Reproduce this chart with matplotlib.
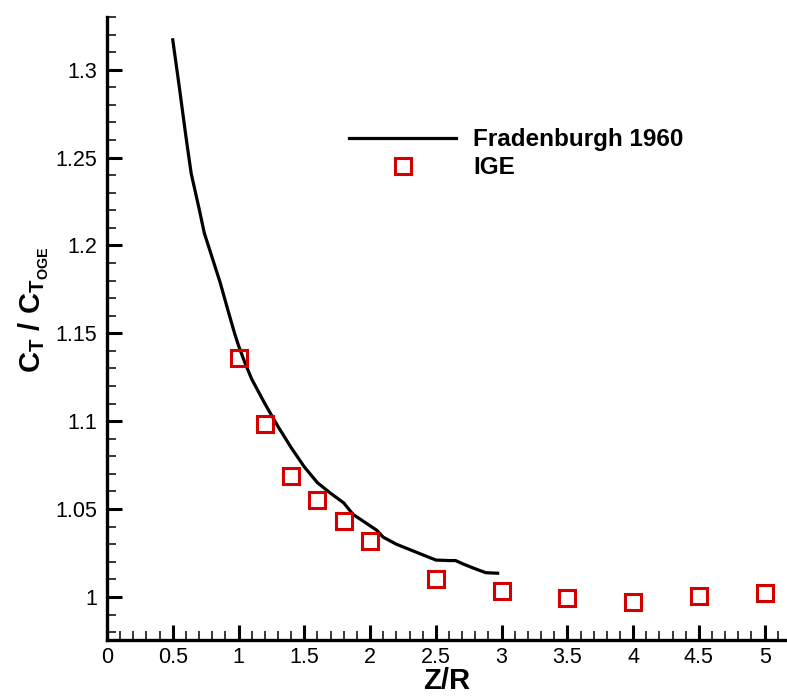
import matplotlib
matplotlib.use("Agg")
import matplotlib.pyplot as plt
from matplotlib.ticker import MultipleLocator, FormatStrFormatter

plt.rcParams['font.family'] = ['Liberation Sans', 'DejaVu Sans']
plt.rcParams['mathtext.fontset'] = 'custom'
plt.rcParams['mathtext.rm'] = 'Liberation Sans:bold'
plt.rcParams['mathtext.it'] = 'Liberation Sans:bold'
plt.rcParams['mathtext.bf'] = 'Liberation Sans:bold'

# Fradenburgh 1960 curve
frad_zr = [0.5, 0.55, 0.6, 0.64, 0.7, 0.74, 0.8, 0.86, 0.92, 0.97, 1.0, 1.05,
           1.1, 1.2, 1.3, 1.4, 1.5, 1.6, 1.7, 1.8, 1.87, 1.95, 2.05, 2.1, 2.2,
           2.3, 2.4, 2.5, 2.6, 2.65, 2.7, 2.8, 2.88, 2.97]
frad_ct = [1.317, 1.29, 1.262, 1.241, 1.221, 1.207, 1.193, 1.179, 1.163, 1.150,
           1.143, 1.133, 1.124, 1.110, 1.097, 1.085, 1.074, 1.065, 1.059, 1.0535,
           1.047, 1.043, 1.038, 1.034, 1.030, 1.027, 1.024, 1.021, 1.0207,
           1.0207, 1.019, 1.016, 1.0138, 1.0135]

# IGE points
ige_zr = [1.0, 1.2, 1.4, 1.6, 1.8, 2.0, 2.5, 3.0, 3.5, 4.0, 4.5, 5.0]
ige_ct = [1.136, 1.0985, 1.069, 1.055, 1.043, 1.032, 1.0102, 1.0034, 0.9996,
          0.9973, 1.0006, 1.002]

fig = plt.figure(figsize=(7.87, 7.0), dpi=100)
ax = fig.add_axes([107 / 787, 60 / 700, 1 - 107 / 787, 623 / 700])

ax.plot(frad_zr, frad_ct, color='black', linewidth=2.3, label='Fradenburgh 1960')
ax.plot(ige_zr, ige_ct, linestyle='none', marker='s', markersize=11,
        markerfacecolor='none', markeredgecolor='#d40000', markeredgewidth=2.2,
        label='IGE')

ax.set_xlim(0, 5.17)
ax.set_ylim(0.9755, 1.330)

ax.xaxis.set_major_locator(MultipleLocator(0.5))
ax.xaxis.set_minor_locator(MultipleLocator(0.1))
ax.yaxis.set_major_locator(MultipleLocator(0.05))
ax.yaxis.set_minor_locator(MultipleLocator(0.01))
ax.xaxis.set_major_formatter(FormatStrFormatter('%g'))
ax.yaxis.set_major_formatter(FormatStrFormatter('%g'))

for side in ['top', 'right']:
    ax.spines[side].set_visible(False)
for side in ['left', 'bottom']:
    ax.spines[side].set_linewidth(2.4)

ax.tick_params(which='major', direction='in', length=11, width=2.2,
               labelsize=15.5, pad=7)
ax.tick_params(which='minor', direction='in', length=6.5, width=1.1)
ax.tick_params(axis='x', which='major', pad=5)

ax.set_xlabel('Z/R', fontsize=21, fontweight='bold', labelpad=-1)
ax.set_ylabel(r'$C_T\ /\ C_{T_{OGE}}$', fontsize=21)
ax.yaxis.set_label_coords(-0.082, 0.53)

ax.legend(loc='upper left', bbox_to_anchor=(337 / 787, 1 - 116 / 700),
          bbox_transform=fig.transFigure, frameon=False, borderpad=0,
          handlelength=4.4, handletextpad=0.7, labelspacing=0.2, numpoints=1,
          prop={'weight': 'bold', 'size': 17.5})

fig.savefig('out.png', dpi=100)
plt.close(fig)
